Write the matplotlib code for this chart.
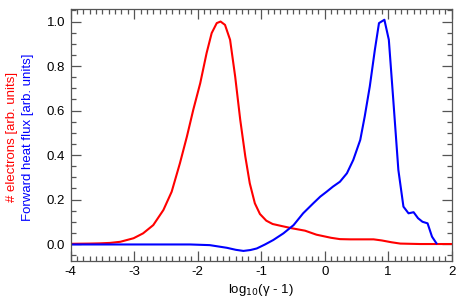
import matplotlib
matplotlib.use("Agg")
import matplotlib.pyplot as plt
from matplotlib.ticker import MultipleLocator

plt.rcParams['font.family'] = ['Liberation Sans', 'DejaVu Sans']

# Electron distribution (red)
elec_x = [-4.0, -3.7, -3.54, -3.38, -3.22, -3.01, -2.86, -2.70, -2.54, -2.41, -2.28,
          -2.17, -2.07, -1.96, -1.86, -1.78, -1.70, -1.64, -1.57, -1.49, -1.41,
          -1.33, -1.25, -1.18, -1.10, -1.02, -0.92, -0.82, -0.68, -0.52, -0.31,
          -0.13, 0.10, 0.24, 0.40, 0.60, 0.77, 0.90, 1.05, 1.19, 1.5, 2.0]
elec_y = [0.001, 0.002, 0.003, 0.005, 0.010, 0.026, 0.048, 0.085, 0.153, 0.235, 0.363,
          0.483, 0.603, 0.723, 0.858, 0.948, 0.993, 1.0, 0.985, 0.918, 0.753,
          0.558, 0.393, 0.273, 0.183, 0.135, 0.105, 0.090, 0.081, 0.071, 0.060,
          0.042, 0.028, 0.022, 0.021, 0.021, 0.021, 0.016, 0.008, 0.002, 0.0, 0.0]

# Forward heat flux (blue)
flux_x = [-4.0, -3.0, -2.12, -1.81, -1.54, -1.40, -1.28, -1.17, -1.07, -0.94, -0.81,
          -0.65, -0.49, -0.34, -0.18, -0.07, 0.03, 0.13, 0.24, 0.35, 0.45,
          0.56, 0.63, 0.71, 0.79, 0.855, 0.94, 1.01, 1.08, 1.16, 1.24,
          1.32, 1.40, 1.47, 1.54, 1.62, 1.69, 1.76]
flux_y = [-0.002, -0.002, -0.002, -0.005, -0.017, -0.026, -0.031, -0.027, -0.02, -0.002, 0.018,
          0.048, 0.085, 0.138, 0.183, 0.213, 0.235, 0.258, 0.28, 0.318, 0.378,
          0.468, 0.573, 0.708, 0.873, 0.993, 1.008, 0.918, 0.648, 0.333, 0.168,
          0.138, 0.143, 0.116, 0.10, 0.093, 0.033, 0.003]

fig = plt.figure(figsize=(4.57, 3.04), dpi=100)
ax = fig.add_axes([0.1547, 0.1424, 0.9884 - 0.1547, 0.9694 - 0.1424])

ax.plot(elec_x, elec_y, color='#ff0000', lw=1.5, solid_joinstyle='round')
ax.plot(flux_x, flux_y, color='#0000ff', lw=1.5, solid_joinstyle='round')

ax.set_xlim(-4, 2)
ax.set_ylim(-0.075, 1.055)
ax.xaxis.set_major_locator(MultipleLocator(1))
ax.xaxis.set_minor_locator(MultipleLocator(0.1))
ax.yaxis.set_major_locator(MultipleLocator(0.2))
ax.yaxis.set_minor_locator(MultipleLocator(0.05))
ax.set_yticks([0.0, 0.2, 0.4, 0.6, 0.8, 1.0])
ax.set_yticklabels(['0.0', '0.2', '0.4', '0.6', '0.8', '1.0'])
ax.set_xticks([-4, -3, -2, -1, 0, 1, 2])
ax.set_xticklabels(['-4', '-3', '-2', '-1', '0', '1', '2'])

tc = '#555555'
ax.tick_params(which='both', direction='in', top=True, right=True, color=tc,
               labelsize=9.5, labelcolor='black', width=0.9)
ax.tick_params(which='major', length=7.2, pad=4)
ax.tick_params(which='minor', length=3.6)
for s in ax.spines.values():
    s.set_color(tc)
    s.set_linewidth(0.9)

ax.set_xlabel('log$_{10}$(γ - 1)', fontsize=9.5, labelpad=3)

fig.text(0.026, 0.55, '# electrons [arb. units]', color='#ff0000', rotation=90,
         ha='center', va='center', fontsize=9.5)
fig.text(0.061, 0.55, 'Forward heat flux [arb. units]', color='#0000ff', rotation=90,
         ha='center', va='center', fontsize=9.5)

fig.savefig('out.png', dpi=100)
